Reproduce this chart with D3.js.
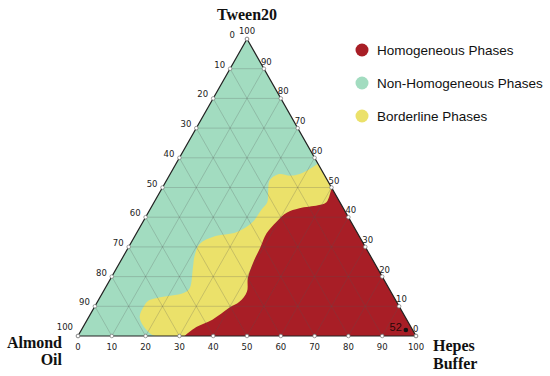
<!DOCTYPE html>
<html>
<head>
<style>
body {margin:0; background:#fff;}
</style>
<script src="https://d3js.org/d3.v7.min.js"></script>
</head>
<body>
<svg id="vis" width="550" height="376"></svg>
<script>
// ternary points are [buffer, tween]; oil = 100 - buffer - tween
var tickValues = [0,10,20,30,40,50,60,70,80,90,100];
var gridValues = [10,20,30,40,50,60,70,80,90];

// green/yellow border, from the right edge down to the base
var borderlineEdge = [[42,58],[39,55],[36,54],[32,54.5],[30.5,52.5],[32,48.5],[33.5,45],[33,42.5],
  [32.5,38.5],[29.5,35],[23.5,33.5],[20.5,31],[21,27],[22.5,23],[25,16],[24,14.5],[17.5,13],
  [15,12],[14.5,10],[15,6.5],[17.5,3.5],[21.5,0.5],[23,0]];
// yellow/red border, from the base up to the right edge
var homogeneousEdge = [[31.5,0],[33.5,3],[37,5.5],[40,9.5],[42,11.5],[42.5,15],[40.5,19.5],
  [39.5,24.5],[39,30],[38.5,34.5],[39.5,38.5],[41,41.5],[44,43],[49,44],[51,45],[50,50]];

var legendNames = ["Homogeneous Phases","Non-Homogeneous Phases","Borderline Phases"];
var legendColors = ["#a81e26","#a2dcc0","#ebe16a"];

var pointLabel = ["52"];
var pointComp = [[96,2]];

var svg = d3.select("#vis");
var xs = d3.scaleLinear().domain([0,100]).range([78,416]);
var ys = d3.scaleLinear().domain([0,100]).range([336,39]);

function px(p){ return xs(p[0] + p[1]/2); }
function py(p){ return ys(p[1]); }
function pt(p){ return px(p) + "," + py(p); }

var curve = d3.line().x(px).y(py).curve(d3.curveCatmullRom.alpha(0.5));

// whole triangle = non homogeneous
svg.append("path")
  .attr("d", "M" + pt([0,0]) + "L" + pt([100,0]) + "L" + pt([0,100]) + "Z")
  .style("fill", legendColors[1]);

svg.append("path")
  .attr("d", curve(borderlineEdge) + "L" + pt([100,0]) + "Z")
  .style("fill", legendColors[2]);

svg.append("path")
  .attr("d", curve(homogeneousEdge) + "L" + pt([100,0]) + "Z")
  .style("fill", legendColors[0]);

// grid
var grid = svg.append("g").style("stroke","#555").style("stroke-opacity",0.3).style("stroke-width",0.8);
gridValues.forEach(function(k){
  grid.append("line").attr("x1",px([0,k])).attr("y1",py([0,k])).attr("x2",px([100-k,k])).attr("y2",py([100-k,k]));
  grid.append("line").attr("x1",px([k,0])).attr("y1",py([k,0])).attr("x2",px([k,100-k])).attr("y2",py([k,100-k]));
  grid.append("line").attr("x1",px([100-k,0])).attr("y1",py([100-k,0])).attr("x2",px([0,100-k])).attr("y2",py([0,100-k]));
});

// outline
svg.append("path")
  .attr("d", "M" + pt([0,0]) + "L" + pt([100,0]) + "L" + pt([0,100]) + "Z")
  .style("fill","none").style("stroke","#222").style("stroke-width",1.2);

// ticks and labels
var ticks = svg.append("g");
function tick(p){
  ticks.append("circle").attr("cx",px(p)).attr("cy",py(p)).attr("r",1.8)
    .style("fill","#fff").style("stroke","#777").style("stroke-width",0.7);
}
var lab = svg.append("g").style("font-family","'DejaVu Sans', sans-serif")
  .style("font-size","8.5px").style("fill","#222");
tickValues.forEach(function(v){
  // bottom: hepes buffer
  var pb = [v,0];
  tick(pb);
  lab.append("text").attr("x",px(pb)).attr("y",py(pb)+14).attr("text-anchor","middle").text(v);
  // left: almond oil
  var pl = [0,100-v];
  tick(pl);
  lab.append("text").attr("x",px(pl)-5 - (v==0 ? 7 : 0)).attr("y",py(pl)-(v==100 ? 6 : 1))
    .attr("text-anchor","end").text(v);
  // right: tween20
  var pr = [100-v,v];
  tick(pr);
  lab.append("text").attr("x",px(pr)-(v==100 ? 0 : 3)).attr("y",py(pr)-(v==100 ? 5 : 4))
    .attr("text-anchor", v==100 ? "middle" : "start").text(v);
});

// axis titles
var title = svg.append("g").style("font-family","'Liberation Serif', serif").style("font-weight","bold")
  .style("font-size","16px").style("fill","#111");
title.append("text").attr("x",247).attr("y",20).attr("text-anchor","middle").text("Tween20");
title.append("text").attr("x",62).attr("y",348).attr("text-anchor","end").text("Almond");
title.append("text").attr("x",62).attr("y",365).attr("text-anchor","end").text("Oil");
title.append("text").attr("x",433).attr("y",351).text("Hepes");
title.append("text").attr("x",433).attr("y",369).text("Buffer");

// formulation point
svg.selectAll(".pt").data(pointComp).enter().append("circle")
  .attr("cx",px).attr("cy",py).attr("r",2.3).style("fill","#111");
svg.selectAll(".ptl").data(pointComp).enter().append("text")
  .attr("x",function(d){ return px(d)-4; }).attr("y",function(d){ return py(d)+1; })
  .attr("text-anchor","end").style("font-family","'Liberation Sans', Arial, sans-serif")
  .style("font-size","11px").style("fill","#2a0808")
  .text(function(d,i){ return pointLabel[i]; });

// legend
var leg = svg.append("g").selectAll("g").data(legendNames).enter().append("g")
  .attr("transform", function(d,i){ return "translate(362," + (50 + i*33) + ")"; });
leg.append("circle").attr("r",6.5).style("fill",function(d,i){ return legendColors[i]; });
leg.append("text").attr("x",15).attr("y",4.5)
  .style("font-family","'Liberation Sans', Arial, sans-serif").style("font-size","13.5px").style("fill","#111")
  .text(function(d){ return d; });
</script>
</body>
</html>
